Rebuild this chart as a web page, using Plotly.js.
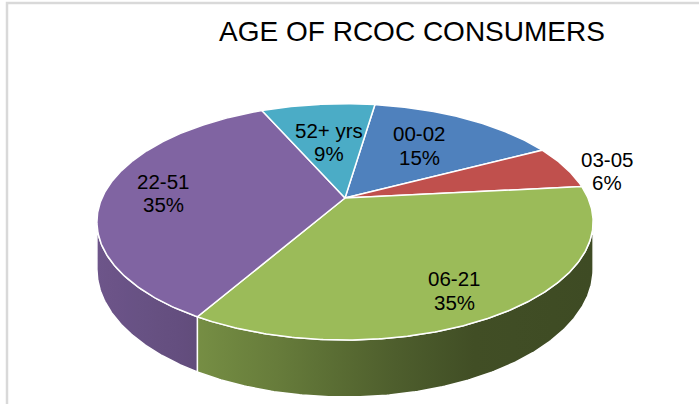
<!DOCTYPE html>
<html>
<head>
<meta charset="utf-8">
<script src="https://cdn.plot.ly/plotly-3.0.1.min.js"></script>
<style>html,body{margin:0;padding:0;background:#fff;}#chart{width:699px;height:404px;}</style>
</head>
<body>
<div id="chart"></div>
<script>
// ---- data ----
const categories = ['00-02', '03-05', '06-21', '22-51', '52+ yrs'];
const values = [15, 6, 35, 35, 9];
const chartTitle = 'AGE OF RCOC CONSUMERS';

// ---- styles / geometry (not data) ----
const sliceColors = ['#4F81BD', '#C0504D', '#9BBB59', '#8064A2', '#4BACC6'];
const geo = { cx: 345, cy: 198, A: 243, B: 113.3, D: 45.5, p: 0.202, rot: 8.5 };
const labelRho = [0.61, 1.16, 0.80, 0.757, 0.555];
const labelAngleShift = [-2, 4.3, 4, 0.3, 0];
const labelFont = { family: 'Liberation Sans, Arial, sans-serif', size: 20.5, color: '#000000' };
const labelLineGap = 11.8;

function proj(thetaDeg, rho, d) {
  const t = thetaDeg * Math.PI / 180;
  const X = rho * Math.sin(t), Z = rho * Math.cos(t);
  const den = 1 + geo.p * Z;
  return [geo.cx + geo.A * X / den, geo.cy + (-geo.B * Z + geo.D * d) / den];
}
function hexToRgb(h) {
  const n = parseInt(h.slice(1), 16);
  return [(n >> 16) & 255, (n >> 8) & 255, n & 255];
}
function shadeAt(x) {
  const pts = [[97, 0.85], [190, 0.77], [280, 0.66], [380, 0.52], [470, 0.42], [600, 0.40]];
  if (x <= pts[0][0]) return pts[0][1];
  for (let i = 1; i < pts.length; i++) {
    if (x <= pts[i][0]) {
      const f = (x - pts[i - 1][0]) / (pts[i][0] - pts[i - 1][0]);
      return pts[i - 1][1] + f * (pts[i][1] - pts[i - 1][1]);
    }
  }
  return pts[pts.length - 1][1];
}
function shaded(hex, f) {
  const c = hexToRgb(hex).map(v => Math.round(v * f));
  return `rgb(${c[0]},${c[1]},${c[2]})`;
}

const total = values.reduce((a, b) => a + b, 0);
const bounds = [];
let acc = 0;
values.forEach(v => {
  const a = geo.rot + acc / total * 360;
  acc += v;
  const b = geo.rot + acc / total * 360;
  bounds.push([a, b]);
});

const thetaS = Math.acos(-geo.p) * 180 / Math.PI;
const sideTraces = [], topTraces = [], annotations = [];
const step = 0.5;

bounds.forEach(([a, b], i) => {
  // side face
  const lo = Math.max(a, thetaS), hi = Math.min(b, 360 - thetaS);
  if (lo < hi) {
    const xs = [], ys = [];
    for (let t = lo; t < hi; t += step) { const q = proj(t, 1, 0); xs.push(q[0]); ys.push(q[1]); }
    let q = proj(hi, 1, 0); xs.push(q[0]); ys.push(q[1]);
    for (let t = hi; t > lo; t -= step) { q = proj(t, 1, 1); xs.push(q[0]); ys.push(q[1]); }
    q = proj(lo, 1, 1); xs.push(q[0]); ys.push(q[1]);
    xs.push(xs[0]); ys.push(ys[0]);
    const xmin = Math.min(...xs), xmax = Math.max(...xs);
    const cs = [];
    for (let k = 0; k <= 10; k++) {
      const xx = xmin + (xmax - xmin) * k / 10;
      cs.push([k / 10, shaded(sliceColors[i], shadeAt(xx))]);
    }
    sideTraces.push({
      type: 'scatter', mode: 'lines', x: xs, y: ys, fill: 'toself',
      fillcolor: shaded(sliceColors[i], 0.6),
      fillgradient: { type: 'horizontal', colorscale: cs },
      line: { color: '#ffffff', width: 1.5 }, hoverinfo: 'skip', showlegend: false
    });
  }
  // top face
  const xs = [geo.cx], ys = [geo.cy];
  for (let t = a; t < b; t += step) { const q = proj(t, 1, 0); xs.push(q[0]); ys.push(q[1]); }
  const qe = proj(b, 1, 0); xs.push(qe[0]); ys.push(qe[1]);
  xs.push(geo.cx); ys.push(geo.cy);
  topTraces.push({
    type: 'scatter', mode: 'lines', x: xs, y: ys, fill: 'toself',
    fillcolor: sliceColors[i], name: categories[i],
    line: { color: '#ffffff', width: 1.5 }, hoverinfo: 'skip', showlegend: false
  });
  // label: category line and percentage line
  const mid = (a + b) / 2 + labelAngleShift[i];
  const lp = proj(mid, labelRho[i], 0);
  const pct = Math.round(values[i] / total * 100) + '%';
  annotations.push({
    x: lp[0], y: lp[1], xref: 'x', yref: 'y', showarrow: false,
    text: categories[i], yshift: labelLineGap, font: labelFont
  });
  annotations.push({
    x: lp[0], y: lp[1], xref: 'x', yref: 'y', showarrow: false,
    text: pct, yshift: -labelLineGap, font: labelFont
  });
});

const layout = {
  width: 699, height: 404,
  margin: { l: 0, r: 0, t: 0, b: 0 },
  paper_bgcolor: '#ffffff', plot_bgcolor: '#ffffff',
  showlegend: false,
  title: {
    text: chartTitle, x: 412 / 699, xanchor: 'center', xref: 'paper',
    y: 1 - 31 / 404, yanchor: 'middle', yref: 'container',
    font: { family: 'Liberation Sans, Arial, sans-serif', size: 28, color: '#000000' }
  },
  xaxis: { range: [0, 699], visible: false, fixedrange: true },
  yaxis: { range: [404, 0], visible: false, fixedrange: true },
  shapes: [{
    type: 'rect', xref: 'x', yref: 'y', x0: 7, x1: 760, y0: 3, y1: 460,
    line: { color: '#D9D9D9', width: 2.5 }, fillcolor: 'rgba(0,0,0,0)', layer: 'below'
  }],
  annotations: annotations
};

Plotly.newPlot('chart', sideTraces.concat(topTraces), layout, { staticPlot: true, displayModeBar: false });
</script>
</body>
</html>
